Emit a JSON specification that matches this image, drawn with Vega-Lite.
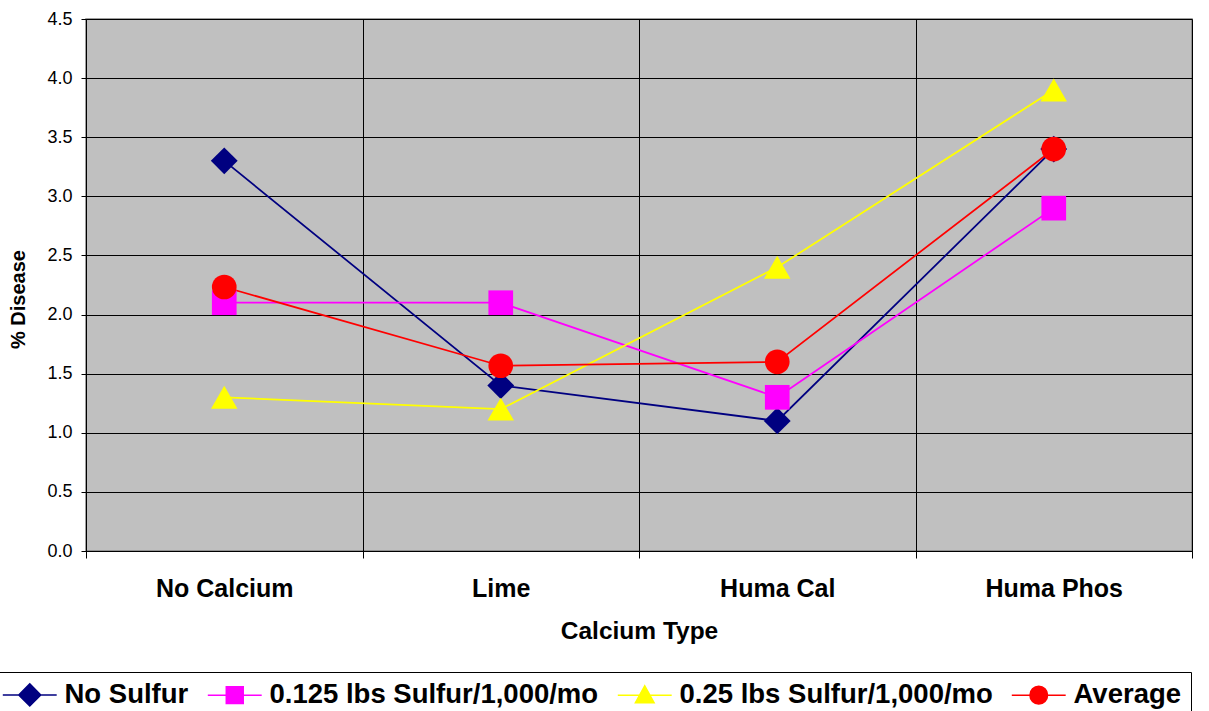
{
  "$schema": "https://vega.github.io/schema/vega-lite/v6.json",
  "width": 1106,
  "height": 532,
  "autosize": {"type": "none"},
  "padding": {"left": 86, "top": 19, "right": 17, "bottom": 160},
  "background": "white",
  "config": {
    "font": "Liberation Sans",
    "view": {"fill": "#C0C0C0", "stroke": "#808080", "strokeWidth": 1.5}
  },
  "data": {
    "values": [
      {"calcium": "No Calcium", "series": "No Sulfur", "value": 3.3},
      {"calcium": "Lime", "series": "No Sulfur", "value": 1.4},
      {"calcium": "Huma Cal", "series": "No Sulfur", "value": 1.1},
      {"calcium": "Huma Phos", "series": "No Sulfur", "value": 3.4},
      {"calcium": "No Calcium", "series": "0.125 lbs Sulfur/1,000/mo", "value": 2.1},
      {"calcium": "Lime", "series": "0.125 lbs Sulfur/1,000/mo", "value": 2.1},
      {"calcium": "Huma Cal", "series": "0.125 lbs Sulfur/1,000/mo", "value": 1.3},
      {"calcium": "Huma Phos", "series": "0.125 lbs Sulfur/1,000/mo", "value": 2.9},
      {"calcium": "No Calcium", "series": "0.25 lbs Sulfur/1,000/mo", "value": 1.3},
      {"calcium": "Lime", "series": "0.25 lbs Sulfur/1,000/mo", "value": 1.2},
      {"calcium": "Huma Cal", "series": "0.25 lbs Sulfur/1,000/mo", "value": 2.4},
      {"calcium": "Huma Phos", "series": "0.25 lbs Sulfur/1,000/mo", "value": 3.9},
      {"calcium": "No Calcium", "series": "Average", "value": 2.233},
      {"calcium": "Lime", "series": "Average", "value": 1.567},
      {"calcium": "Huma Cal", "series": "Average", "value": 1.6},
      {"calcium": "Huma Phos", "series": "Average", "value": 3.4}
    ]
  },
  "encoding": {
    "x": {
      "field": "calcium",
      "type": "nominal",
      "sort": ["No Calcium", "Lime", "Huma Cal", "Huma Phos"],
      "scale": {"type": "band", "paddingInner": 0, "paddingOuter": 0},
      "axis": {
        "title": "Calcium Type",
        "tickBand": "extent",
        "grid": true,
        "gridColor": "black",
        "gridWidth": 1,
        "domainColor": "black",
        "domainWidth": 1,
        "tickColor": "black",
        "tickSize": 7,
        "labelAngle": 0,
        "labelFontSize": 25,
        "labelFontWeight": "bold",
        "labelColor": "black",
        "labelBaseline": "alphabetic",
        "labelPadding": 38,
        "titleFontSize": 24.5,
        "titleFontWeight": "bold",
        "titleColor": "black",
        "titleBaseline": "alphabetic",
        "titleY": 87
      }
    },
    "y": {
      "field": "value",
      "type": "quantitative",
      "scale": {"domain": [0, 4.5], "nice": false},
      "axis": {
        "title": "% Disease",
        "values": [0, 0.5, 1, 1.5, 2, 2.5, 3, 3.5, 4, 4.5],
        "format": ".1f",
        "grid": true,
        "gridColor": "black",
        "gridWidth": 1,
        "domainColor": "black",
        "domainWidth": 1,
        "tickColor": "black",
        "tickSize": 5,
        "labelPadding": 9,
        "labelFontSize": 18,
        "labelColor": "black",
        "labelFlush": false,
        "titleFontSize": 20,
        "titleFontWeight": "bold",
        "titleColor": "black",
        "titleAngle": -90,
        "titleAlign": "center",
        "titleBaseline": "middle",
        "titleX": -68,
        "titleY": 280
      }
    },
    "color": {
      "field": "series",
      "type": "nominal",
      "scale": {
        "domain": ["No Sulfur", "0.125 lbs Sulfur/1,000/mo", "0.25 lbs Sulfur/1,000/mo", "Average"],
        "range": ["#000080", "#FF00FF", "#FFFF00", "#FF0000"]
      },
      "legend": {
        "orient": "none",
        "legendX": -95,
        "legendY": 653,
        "direction": "horizontal",
        "title": null,
        "labelFontSize": 27.5,
        "labelFontWeight": "bold",
        "labelColor": "black",
        "labelLimit": 600,
        "labelOffset": 21,
        "symbolOffset": 16,
        "columnPadding": 15,
        "padding": 9,
        "symbolSize": 484,
        "symbolStrokeWidth": 1.5,
        "strokeColor": "black",
        "fillColor": "white",
        "encode": {
          "symbols": {
            "update": {
              "shape": {"signal": "datum.value === 'No Sulfur' ? 'M-2.45,0H2.45M0,-1L1,0L0,1L-1,0Z' : datum.value === 'Average' ? 'M-2.45,0H2.45M-0.8,0A0.8,0.8,0,1,0,0.8,0A0.8,0.8,0,1,0,-0.8,0Z' : (datum.value[2] === '1' ? 'M-2.45,0H2.45M-0.77,-0.77H0.77V0.77H-0.77Z' : 'M-2.45,0H2.45M0,-0.85L0.85,0.7H-0.85Z')"},
              "fill": {"scale": "color", "field": "value"},
              "stroke": {"scale": "color", "field": "value"},
              "strokeWidth": {"value": 1.5},
              "size": {"value": 484},
              "opacity": {"value": 1},
              "fillOpacity": {"value": 1}
            }
          }
        }
      }
    }
  },
  "layer": [
    {"mark": {"type": "line", "strokeWidth": 1.75}},
    {
      "transform": [{"filter": "datum.series === 'No Sulfur'"}],
      "mark": {"type": "point", "shape": "diamond", "filled": true, "size": 720, "opacity": 1}
    },
    {
      "transform": [{"filter": "datum.series === '0.125 lbs Sulfur/1,000/mo'"}],
      "mark": {"type": "point", "shape": "square", "filled": true, "size": 610, "opacity": 1}
    },
    {
      "transform": [{"filter": "datum.series === '0.25 lbs Sulfur/1,000/mo'"}],
      "mark": {"type": "point", "shape": "triangle-up", "filled": true, "size": 700, "opacity": 1}
    },
    {
      "transform": [{"filter": "datum.series === 'Average'"}],
      "mark": {"type": "point", "shape": "circle", "filled": true, "size": 610, "opacity": 1}
    }
  ]
}
